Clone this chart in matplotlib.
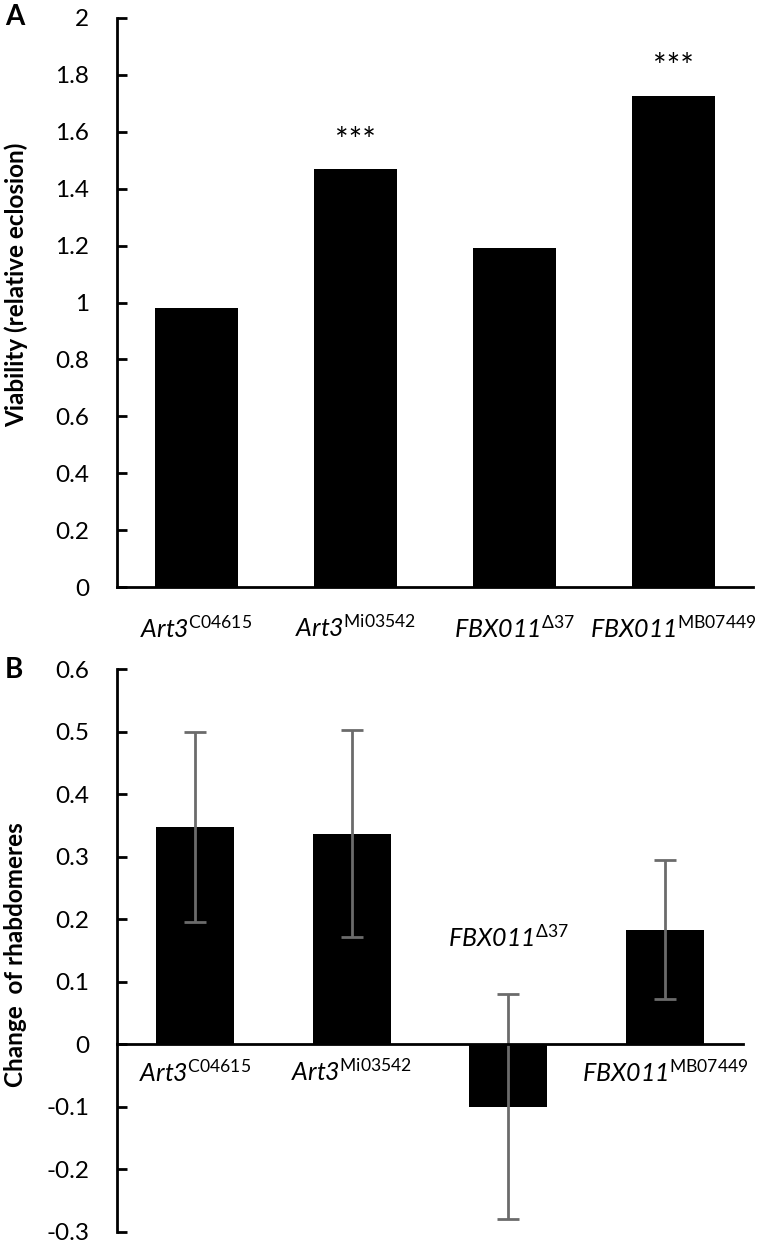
"""
Two-panel bar chart: viability (A) and change of rhabdomeres (B).
"""

import numpy as np
import matplotlib
matplotlib.use("Agg")
import matplotlib.pyplot as plt

plt.rcParams['font.family'] = ['Lato', 'DejaVu Sans']
plt.rcParams['mathtext.fontset'] = 'custom'
# rm is italic so that the gene names (letters and digits) come out italic,
# the allele superscripts use sf (upright)
plt.rcParams['mathtext.rm'] = 'Lato:italic'
plt.rcParams['mathtext.it'] = 'Lato:italic'
plt.rcParams['mathtext.sf'] = 'Lato'

# data
genes = ['Art3', 'Art3', 'FBX011', 'FBX011']
alleles = ['C04615', 'Mi03542', 'Δ37', 'MB07449']
viability = [0.98, 1.468, 1.19, 1.725]
signif = ['', '***', '', '***']
rhabdo_change = [0.347, 0.337, -0.1, 0.183]
rhabdo_err = [0.152, 0.166, 0.18, 0.111]

labels = [r'$\mathrm{%s}^{\mathsf{%s}}$' % (g, a) for g, a in zip(genes, alleles)]
x = np.arange(len(genes))

W, H = 760, 1246
fig = plt.figure(figsize=(W / 100, H / 100), dpi=100)


def style_axis(ax):
    for s in ['top', 'right']:
        ax.spines[s].set_visible(False)
    ax.spines['left'].set_linewidth(2)
    ax.spines['bottom'].set_linewidth(2)
    ax.tick_params(axis='y', direction='in', length=7, width=2,
                   labelsize=17.5, pad=20)
    ax.tick_params(axis='x', length=0)


# panel A
axA = fig.add_axes([117 / W, 1 - 587 / H, (753 - 117) / W, (587 - 18) / H])
axA.bar(x, viability, width=0.52, color='black')
axA.set_xlim(-0.5, 3.5)
axA.set_ylim(0, 2)
axA.set_yticks(np.arange(0, 2.01, 0.2))
axA.set_yticklabels(['0'] + ['%g' % v for v in np.arange(0.2, 2.01, 0.2)])
style_axis(axA)
axA.set_xticks(x)
axA.set_xticklabels(labels, fontsize=18)
axA.tick_params(axis='x', pad=20)
for xi, v, s in zip(x, viability, signif):
    if s:
        axA.annotate(s, (xi, v), xytext=(0, 20), textcoords='offset points',
                     ha='center', va='center', fontsize=23)
fig.text(16 / W, 1 - 285 / H, 'Viability (relative eclosion)', rotation=90,
         ha='center', va='center', fontsize=17.5, fontweight='bold')
fig.text(15 / W, 1 - 17 / H, 'A', ha='center', va='center',
         fontsize=20, fontweight='bold')

# panel B
axB = fig.add_axes([117 / W, 1 - 1232 / H, (743 - 117) / W, (1232 - 669) / H])
axB.bar(x, rhabdo_change, width=0.5, color='black')
axB.errorbar(x, rhabdo_change, yerr=rhabdo_err, fmt='none', ecolor='#6b6b6b',
             elinewidth=2, capsize=8, capthick=2)
axB.set_xlim(-0.5, 3.5)
axB.set_ylim(-0.3, 0.6)
axB.set_yticks(np.arange(-0.3, 0.61, 0.1))
axB.set_yticklabels(['%g' % round(v, 1) for v in np.arange(-0.3, 0.61, 0.1)])
style_axis(axB)
axB.spines['bottom'].set_position(('data', 0))
axB.set_xticks([])
for xi, v, lab in zip(x, rhabdo_change, labels):
    if v < 0:
        axB.text(xi, 0.171, lab, ha='center', va='center', fontsize=18)
    else:
        axB.annotate(lab, (xi, 0), xytext=(0, -20), textcoords='offset points',
                     ha='center', va='center', fontsize=18)
fig.text(16 / W, 1 - 955 / H, 'Change  of rhabdomeres', rotation=90,
         ha='center', va='center', fontsize=17.5, fontweight='bold')
fig.text(14 / W, 1 - 670 / H, 'B', ha='center', va='center',
         fontsize=20, fontweight='bold')

fig.savefig('out.png', dpi=100)
